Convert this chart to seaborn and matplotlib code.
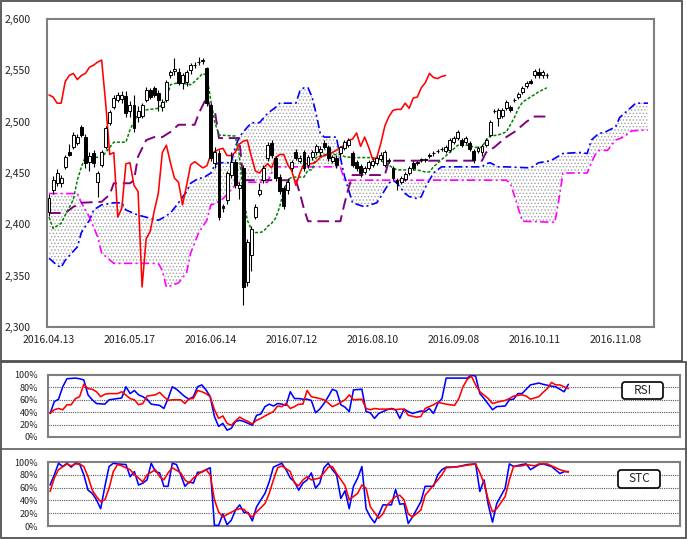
import numpy as np
import matplotlib
matplotlib.use("Agg")
import matplotlib.pyplot as plt
import matplotlib.transforms as mtransforms
from matplotlib.patches import Rectangle, FancyBboxPatch
from matplotlib.lines import Line2D
import seaborn as sns

# ---- price candles (bar index 0 = 2016.04.13) ----
opens = [2412, 2433, 2440, 2440, 2456, 2470, 2475, 2479, 2495, 2485, 2461, 2469, 2441, 2458, 2475, 2499,
         2514, 2521, 2522, 2525, 2510, 2516, 2505, 2506, 2521, 2531, 2533, 2528, 2514, 2521, 2545, 2549,
         2548, 2538, 2539, 2550, 2555, 2558, 2560, 2552, 2516, 2460, 2469, 2418, 2424, 2448, 2461, 2435,
         2455, 2344, 2370, 2407, 2430, 2443, 2465, 2479, 2465, 2446, 2435, 2433, 2455, 2470, 2462, 2470,
         2458, 2466, 2470, 2470, 2479, 2475, 2462, 2465, 2469, 2474, 2477, 2469, 2461, 2457, 2451, 2455,
         2458, 2460, 2464, 2458, 2462, 2455, 2443, 2441, 2444, 2450, 2460, 2460, 2463, 2463, 2467, 2469,
         2471, 2473, 2471, 2472, 2480, 2484, 2482, 2480, 2479, 2471, 2471, 2470, 2477, 2487, 2510, 2504,
         2506, 2513, 2514, 2521, 2524, 2529, 2535, 2540, 2545, 2548, 2545, 2545]
highs = [2430, 2447, 2454, 2448, 2468, 2478, 2490, 2488, 2497, 2488, 2470, 2472, 2452, 2472, 2496, 2511,
         2526, 2529, 2530, 2530, 2520, 2526, 2515, 2518, 2534, 2533, 2535, 2531, 2522, 2541, 2550, 2562,
         2552, 2547, 2550, 2557, 2558, 2563, 2562, 2553, 2518, 2475, 2472, 2420, 2452, 2470, 2464, 2441,
         2458, 2386, 2398, 2420, 2440, 2458, 2480, 2482, 2467, 2449, 2437, 2445, 2463, 2473, 2468, 2472,
         2468, 2472, 2478, 2476, 2482, 2477, 2468, 2468, 2476, 2482, 2484, 2471, 2463, 2459, 2457, 2463,
         2464, 2467, 2470, 2472, 2465, 2457, 2445, 2447, 2451, 2457, 2462, 2462, 2465, 2465, 2469, 2471,
         2473, 2475, 2477, 2484, 2486, 2492, 2484, 2486, 2481, 2473, 2476, 2478, 2484, 2502, 2512, 2513,
         2513, 2521, 2516, 2523, 2529, 2535, 2540, 2542, 2551, 2552, 2550, 2547]
lows = [2408, 2430, 2437, 2436, 2454, 2467, 2473, 2477, 2485, 2455, 2452, 2456, 2427, 2456, 2473, 2497,
        2512, 2519, 2518, 2505, 2505, 2490, 2500, 2504, 2519, 2522, 2524, 2510, 2510, 2519, 2543, 2545,
        2536, 2532, 2535, 2546, 2552, 2555, 2556, 2515, 2462, 2455, 2404, 2412, 2420, 2445, 2435, 2425,
        2321, 2340, 2355, 2405, 2428, 2440, 2462, 2465, 2442, 2430, 2415, 2430, 2452, 2463, 2460, 2452,
        2455, 2463, 2468, 2467, 2473, 2462, 2460, 2455, 2466, 2472, 2475, 2456, 2452, 2446, 2449, 2453,
        2456, 2458, 2462, 2456, 2460, 2443, 2433, 2439, 2442, 2448, 2453, 2458, 2461, 2461, 2465, 2467,
        2469, 2471, 2469, 2470, 2478, 2482, 2475, 2478, 2471, 2460, 2469, 2467, 2475, 2485, 2508, 2496,
        2504, 2511, 2509, 2519, 2522, 2527, 2533, 2537, 2543, 2543, 2543, 2543]
closes = [2426, 2443, 2450, 2445, 2466, 2468, 2487, 2485, 2487, 2460, 2467, 2460, 2450, 2470, 2494, 2509,
          2523, 2526, 2526, 2508, 2516, 2494, 2510, 2516, 2531, 2524, 2526, 2521, 2519, 2539, 2548, 2551,
          2538, 2545, 2548, 2555, 2555, 2558, 2559, 2518, 2465, 2470, 2407, 2416, 2450, 2461, 2438, 2438,
          2339, 2383, 2395, 2417, 2433, 2455, 2477, 2468, 2445, 2432, 2418, 2441, 2461, 2465, 2465, 2455,
          2466, 2470, 2476, 2473, 2475, 2465, 2466, 2458, 2475, 2480, 2482, 2458, 2455, 2450, 2455, 2461,
          2462, 2465, 2468, 2470, 2463, 2445, 2440, 2445, 2449, 2455, 2455, 2460, 2463, 2463, 2467, 2469,
          2471, 2473, 2475, 2482, 2484, 2490, 2477, 2484, 2473, 2463, 2474, 2476, 2482, 2500, 2510, 2511,
          2511, 2519, 2511, 2521, 2527, 2533, 2538, 2538, 2549, 2545, 2548, 2545]

date_labels = ["2016.04.13", "2016.05.17", "2016.06.14", "2016.07.12",
               "2016.08.10", "2016.09.08", "2016.10.11", "2016.11.08"]

# ---- ichimoku lines ----
tenkan_idx = [0, 1, 3, 4, 6, 7, 8, 9, 13, 14, 16, 19, 20, 22, 23, 27, 29, 30, 32, 35,
              36, 38, 39, 40, 41, 42, 46, 47, 48, 49, 50, 51, 52, 53, 54, 55, 56, 57, 58, 59,
              60, 63, 64, 65, 66, 68, 72, 73, 75, 80, 82, 83, 85, 86, 91, 93, 94, 95, 97, 99,
              101, 104, 105, 107, 108, 109, 111, 113, 115, 116, 117, 119, 121, 123]
tenkan_val = [2407, 2396, 2401, 2409, 2424, 2443, 2456, 2466, 2465, 2470, 2480, 2480, 2492, 2508, 2511, 2513, 2521, 2536, 2538, 2536,
              2539, 2547, 2545, 2520, 2499, 2487, 2486, 2468, 2428, 2404, 2395, 2392, 2392, 2393, 2398, 2401, 2406, 2417, 2433, 2443,
              2446, 2446, 2453, 2453, 2465, 2468, 2468, 2466, 2465, 2465, 2462, 2460, 2455, 2453, 2453, 2451, 2451, 2456, 2463, 2470,
              2477, 2477, 2475, 2475, 2482, 2486, 2487, 2490, 2504, 2513, 2519, 2524, 2529, 2533]

kijun_idx = [0, 4, 6, 8, 13, 15, 16, 20, 21, 22, 24, 26, 28, 30, 32, 36, 37, 39, 40, 41,
             42, 47, 48, 61, 62, 63, 64, 72, 73, 74, 75, 83, 84, 107, 108, 110, 113, 115, 118, 120, 123]
kijun_val = [2411, 2411, 2417, 2421, 2422, 2429, 2440, 2440, 2443, 2466, 2482, 2485, 2485, 2490, 2497, 2497, 2508, 2524, 2512, 2510,
             2484, 2484, 2443, 2443, 2430, 2415, 2403, 2403, 2420, 2435, 2448, 2448, 2462, 2462, 2470, 2475, 2485, 2490, 2500, 2505, 2505]

span_a_idx = [0, 2, 3, 4, 7, 8, 10, 11, 13, 16, 18, 19, 22, 24, 27, 28, 30, 32, 34, 35,
              37, 38, 40, 41, 42, 45, 46, 47, 48, 50, 52, 54, 56, 57, 61, 62, 63, 64, 65, 66,
              67, 68, 71, 72, 73, 74, 75, 78, 81, 82, 84, 85, 86, 88, 89, 91, 92, 93, 95, 97,
              107, 108, 109, 111, 113, 119, 121, 124, 127, 131, 133, 134, 136, 137, 140, 141, 143, 145, 148]
span_a_val = [2367, 2360, 2358, 2365, 2378, 2392, 2404, 2414, 2419, 2421, 2421, 2414, 2409, 2407, 2404, 2406, 2411, 2421, 2432, 2440,
              2445, 2445, 2450, 2458, 2460, 2460, 2475, 2485, 2490, 2499, 2499, 2508, 2514, 2518, 2518, 2530, 2533, 2533, 2524, 2508,
              2489, 2485, 2485, 2465, 2447, 2434, 2421, 2417, 2421, 2427, 2440, 2443, 2440, 2430, 2427, 2425, 2427, 2436, 2450, 2456,
              2456, 2459, 2460, 2456, 2456, 2455, 2460, 2462, 2469, 2470, 2469, 2482, 2489, 2489, 2495, 2504, 2511, 2518, 2518]

span_b_idx = [0, 7, 8, 10, 12, 13, 16, 27, 28, 29, 30, 32, 34, 35, 37, 39, 40, 41, 43, 46,
              47, 54, 55, 56, 72, 73, 113, 114, 115, 116, 117, 125, 126, 127, 133, 134, 135, 136, 138, 140,
              142, 144, 148]
span_b_val = [2430, 2430, 2421, 2407, 2388, 2372, 2362, 2362, 2355, 2339, 2340, 2343, 2353, 2372, 2392, 2404, 2419, 2420, 2425, 2438,
              2441, 2441, 2450, 2456, 2456, 2443, 2443, 2440, 2428, 2415, 2403, 2402, 2424, 2450, 2450, 2460, 2468, 2472, 2472, 2482,
              2485, 2491, 2492]

chikou_val = [2526, 2524, 2518, 2518, 2539, 2545, 2547, 2541, 2545, 2547, 2553, 2555, 2558, 2560, 2518, 2468, 2470, 2407, 2416, 2459,
              2460, 2438, 2432, 2339, 2386, 2393, 2413, 2430, 2470, 2477, 2460, 2445, 2441, 2419, 2438, 2458, 2461, 2458, 2455, 2457,
              2468, 2471, 2473, 2474, 2467, 2467, 2470, 2478, 2481, 2482, 2466, 2452, 2450, 2455, 2459, 2455, 2465, 2468, 2468, 2458,
              2452, 2438, 2450, 2459, 2459, 2459, 2461, 2465, 2467, 2468, 2470, 2472, 2475, 2477, 2482, 2483, 2489, 2476, 2485, 2475,
              2463, 2465, 2479, 2496, 2505, 2511, 2512, 2512, 2518, 2513, 2523, 2524, 2533, 2538, 2547, 2543, 2542, 2544, 2545]

# ---- RSI (%) ----
rsi_a_idx = [0, 1, 2, 3, 4, 6, 7, 8, 9, 10, 11, 13, 14, 15, 17, 18, 19, 20, 21, 22, 23, 24, 26, 27, 28, 29, 30, 32, 33, 34,
             35, 36, 37, 38, 39, 40, 41, 42, 43, 44, 45, 46, 47, 48, 49, 50, 51, 52, 53, 54, 55, 56, 57, 58, 59, 60, 61, 62, 63, 64,
             65, 66, 67, 68, 69, 70, 71, 72, 74, 75, 76, 77, 78, 80, 81, 82, 83, 84, 85, 86, 88, 89, 90, 91, 92, 93, 94, 95, 97, 99,
             100, 101, 102, 103, 105, 106, 108, 109, 110, 111, 112, 114, 116, 117, 119, 120, 122, 123]
rsi_a_val = [38, 57, 61, 81, 94, 95, 94, 92, 68, 60, 54, 53, 60, 61, 63, 81, 70, 75, 68, 65, 61, 53, 51, 46, 62, 81, 77, 65, 61, 65,
             81, 84, 76, 65, 33, 17, 22, 11, 14, 25, 27, 25, 22, 19, 35, 37, 49, 53, 50, 54, 53, 51, 73, 62, 62, 61, 61, 59, 39, 45,
             54, 65, 77, 74, 52, 48, 41, 76, 77, 41, 39, 30, 38, 44, 46, 44, 30, 45, 41, 38, 42, 41, 46, 38, 54, 62, 95, 95, 95, 95,
             100, 98, 70, 62, 44, 49, 50, 60, 61, 70, 70, 84, 87, 85, 82, 81, 73, 85]
rsi_b_idx = [0, 1, 2, 3, 4, 5, 6, 7, 8, 9, 10, 11, 12, 13, 14, 16, 17, 19, 20, 21, 22, 23, 25, 26, 27, 28, 29, 31, 32, 33,
             34, 35, 36, 37, 38, 39, 40, 41, 42, 43, 44, 45, 46, 47, 48, 49, 50, 51, 53, 54, 55, 56, 57, 58, 59, 60, 61, 62, 64, 65,
             66, 67, 68, 70, 71, 72, 74, 75, 76, 77, 78, 81, 82, 83, 84, 85, 87, 88, 89, 91, 92, 94, 96, 97, 98, 99, 100, 101, 102, 104,
             105, 106, 108, 109, 110, 112, 113, 114, 116, 117, 118, 119, 120, 121, 123]
rsi_b_val = [38, 44, 46, 44, 52, 52, 62, 65, 85, 78, 77, 73, 65, 69, 70, 70, 73, 62, 60, 52, 54, 66, 68, 72, 65, 59, 60, 60, 54, 62,
             62, 75, 73, 70, 65, 44, 30, 34, 22, 19, 26, 32, 28, 25, 21, 27, 30, 34, 41, 50, 49, 54, 46, 49, 53, 53, 75, 65, 62, 60,
             55, 49, 52, 60, 68, 60, 61, 46, 44, 46, 45, 45, 44, 45, 45, 35, 32, 33, 46, 52, 56, 53, 51, 62, 81, 93, 98, 84, 73, 62,
             54, 56, 59, 62, 66, 68, 66, 61, 65, 72, 78, 88, 84, 84, 78]

# ---- STC (%) ----
stc_a_idx = [0, 1, 2, 3, 4, 5, 6, 7, 8, 9, 10, 11, 12, 13, 14, 15, 16, 18, 19, 20, 21, 22, 23, 24, 25, 26, 27, 28, 29, 30,
             31, 32, 33, 34, 35, 36, 37, 38, 39, 40, 41, 42, 43, 44, 45, 46, 47, 48, 49, 51, 52, 53, 55, 56, 57, 58, 59, 60, 61, 62,
             63, 64, 65, 66, 67, 68, 69, 70, 71, 72, 73, 74, 75, 76, 77, 78, 79, 81, 82, 83, 84, 85, 86, 88, 89, 91, 92, 93, 94, 96,
             97, 99, 101, 102, 103, 104, 105, 106, 108, 109, 110, 112, 113, 114, 116, 117, 119, 121, 122, 123]
stc_a_val = [64, 80, 98, 93, 98, 92, 98, 97, 80, 56, 51, 41, 27, 62, 93, 98, 97, 96, 77, 85, 64, 67, 72, 98, 85, 83, 62, 62, 98, 96,
             80, 62, 69, 67, 84, 84, 88, 91, 1, 1, 19, 2, 9, 25, 33, 21, 21, 8, 30, 51, 69, 92, 98, 88, 75, 69, 56, 67, 72, 83,
             59, 67, 91, 98, 88, 80, 43, 55, 27, 62, 75, 93, 27, 14, 5, 18, 33, 33, 57, 34, 35, 4, 14, 38, 62, 62, 80, 88, 92, 92,
             93, 96, 97, 54, 72, 33, 6, 35, 59, 97, 93, 96, 97, 88, 96, 97, 93, 82, 85, 85]
stc_b_idx = [0, 1, 2, 4, 5, 6, 7, 8, 9, 10, 11, 12, 13, 14, 15, 16, 17, 19, 20, 21, 22, 23, 25, 26, 27, 28, 29, 31, 32, 33,
             34, 35, 36, 37, 38, 39, 40, 41, 42, 44, 45, 46, 47, 48, 49, 51, 52, 53, 54, 55, 57, 58, 59, 60, 61, 62, 64, 65, 66, 67,
             68, 70, 71, 73, 74, 75, 76, 78, 79, 80, 82, 83, 84, 85, 86, 88, 89, 91, 93, 94, 96, 98, 100, 101, 102, 103, 104, 105, 106, 108,
             109, 110, 112, 113, 115, 116, 118, 119, 121, 123]
stc_b_val = [54, 75, 88, 97, 94, 97, 97, 93, 77, 56, 46, 38, 41, 59, 85, 96, 94, 88, 80, 75, 69, 80, 88, 77, 72, 83, 91, 83, 72, 67,
             75, 80, 85, 88, 80, 41, 22, 14, 18, 25, 27, 26, 19, 14, 22, 35, 51, 72, 91, 94, 85, 67, 63, 72, 77, 72, 75, 83, 92, 93,
             82, 63, 41, 51, 64, 59, 30, 12, 19, 33, 46, 48, 41, 19, 14, 25, 48, 64, 80, 91, 92, 94, 96, 97, 83, 67, 41, 22, 27, 46,
             72, 93, 94, 96, 94, 97, 97, 94, 88, 84]

# ---------------------------------------------------------------
sns.set_style("white")
plt.rcParams["font.family"] = ["Noto Sans CJK JP", "DejaVu Sans"]
plt.rcParams["hatch.linewidth"] = 0.6

W, H = 687, 539
fig = plt.figure(figsize=(W / 100, H / 100), dpi=100)


def box(l, t, r, b):
    return [l / W, 1 - b / H, (r - l) / W, (b - t) / H]


ax = fig.add_axes(box(47, 19, 654, 327))
ax_rsi = fig.add_axes(box(48, 375, 680, 437))
ax_stc = fig.add_axes(box(48, 462, 680, 526))

# cloud
cloud_x = np.concatenate([span_a_idx, span_b_idx[::-1]])
cloud_y = np.concatenate([span_a_val, span_b_val[::-1]])
ax.fill(cloud_x, cloud_y, facecolor="white", edgecolor="#a0a0a0", hatch=".....", linewidth=0, zorder=1)

sns.lineplot(x=span_a_idx, y=span_a_val, ax=ax, color="#0000FF", linewidth=1.2,
             linestyle=(0, (5, 2, 1.2, 2)), estimator=None, legend=False, zorder=5)
sns.lineplot(x=span_b_idx, y=span_b_val, ax=ax, color="#FF00FF", linewidth=1.2,
             linestyle=(0, (5, 2, 1.2, 2)), estimator=None, legend=False, zorder=5)
sns.lineplot(x=kijun_idx, y=kijun_val, ax=ax, color="#800080", linewidth=1.4,
             linestyle=(0, (6, 3)), estimator=None, legend=False, zorder=5)
sns.lineplot(x=tenkan_idx, y=tenkan_val, ax=ax, color="#008000", linewidth=1.1,
             linestyle=(0, (2, 1.2)), estimator=None, legend=False, zorder=5)
sns.lineplot(x=np.arange(len(chikou_val)), y=chikou_val, ax=ax, color="#FF0000", linewidth=1.15,
             estimator=None, legend=False, zorder=6)

# candles
o = np.array(opens)
c = np.array(closes)
xi = np.arange(len(o))
up = c >= o
ax.vlines(xi, lows, highs, color="black", linewidth=0.8, zorder=7)
ax.bar(xi, np.maximum(np.abs(c - o), 0.5), bottom=np.minimum(o, c), width=0.72,
       color=np.where(up, "white", "black"), edgecolor="black", linewidth=0.7, zorder=8)

ax.set_xlim(-0.5, 149.5)
ax.set_ylim(2300, 2600)
ax.set_yticks(range(2300, 2601, 50))
ax.set_yticklabels([f"{v:,}" for v in range(2300, 2601, 50)])
ax.set_xticks(range(0, 150, 10))
ax.set_xticklabels([date_labels[k // 2] if k % 2 == 0 else "" for k in range(15)])
ax.tick_params(axis="both", direction="out", length=4, width=1, color="#555555",
               labelsize=7.5, labelcolor="#222222")
ax.tick_params(axis="y", pad=7.5)
ax.tick_params(axis="x", pad=1.5)
for s in ax.spines.values():
    s.set_color("#7f7f7f")
    s.set_linewidth(1.5)

# oscillator panels
for a, (ia, va, ib, vb) in [
    (ax_rsi, (rsi_a_idx, rsi_a_val, rsi_b_idx, rsi_b_val)),
    (ax_stc, (stc_a_idx, stc_a_val, stc_b_idx, stc_b_val)),
]:
    for g in (20, 40, 60, 80):
        a.axhline(g, color="#555555", linewidth=0.8, linestyle=(0, (1, 1)), zorder=1)
    sns.lineplot(x=ia, y=va, ax=a, color="#0000FF", linewidth=1.15, estimator=None, legend=False, zorder=3)
    sns.lineplot(x=ib, y=vb, ax=a, color="#FF0000", linewidth=1.15, estimator=None, legend=False, zorder=4)
    a.set_xlim(-0.5, 149.5)
    a.set_ylim(0, 100)
    a.set_yticks(range(0, 101, 20))
    a.set_yticklabels([f"{v}%" for v in range(0, 101, 20)])
    a.set_xticks([])
    a.set_xlabel("")
    a.tick_params(axis="y", length=0, pad=7, labelsize=6.5, labelcolor="#222222")
    for s in a.spines.values():
        s.set_color("#7f7f7f")
        s.set_linewidth(1.5)

# frame, separators and label boxes in pixel coordinates
pix = mtransforms.Affine2D().scale(1 / 100, -1 / 100).translate(0, H / 100) + fig.dpi_scale_trans
fig.add_artist(Rectangle((1, 1), 681, 360, transform=pix, fill=False, edgecolor="#505050", linewidth=1.3))
fig.add_artist(Rectangle((1, 362), 685, 176, transform=pix, fill=False, edgecolor="#505050", linewidth=1.3))
fig.add_artist(Line2D([1, 686], [449, 449], transform=pix, color="#505050", linewidth=1.1))
for name, (l, t, r, b) in [("RSI", (622, 382, 663, 399)), ("STC", (618, 470, 660, 488))]:
    fig.add_artist(FancyBboxPatch((l, t), r - l, b - t, boxstyle="round,pad=0,rounding_size=3",
                                  transform=pix, facecolor="white", edgecolor="black", linewidth=1.2))
    fig.text((l + r) / 2 / W, 1 - (t + b) / 2 / H, name, ha="center", va="center", fontsize=8.5)

fig.savefig("out.png", dpi=100)
